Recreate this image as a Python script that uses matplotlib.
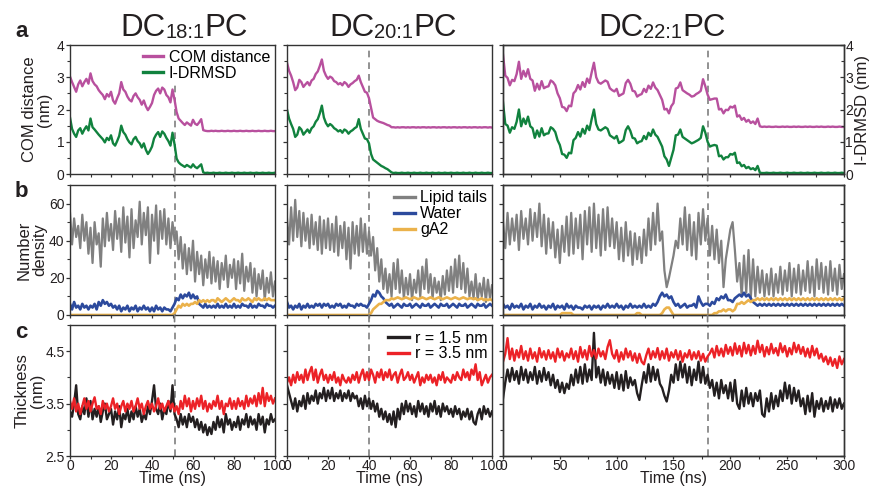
import numpy as np
import matplotlib
matplotlib.use("Agg")
import matplotlib.pyplot as plt
from matplotlib.patches import ConnectionPatch
from matplotlib.ticker import MultipleLocator, FixedLocator

plt.rcParams["font.family"] = ["Liberation Sans", "DejaVu Sans"]

# time axes (ns): 1 ns sampling for the 100 ns runs, 2 ns for the 300 ns run
t_short = np.arange(0, 101, 1)
t_long = np.arange(0, 301, 2)

chain = ["18:1", "20:1", "22:1"]
insertion_time = [51, 40, 180]
time_max = [100, 100, 300]

# --- a: COM distance and I-DRMSD (nm) ---
com_18 = [3.02, 2.85, 2.70, 2.55, 2.78, 2.90, 2.72, 2.85, 2.95, 2.80,
          3.12, 2.88, 2.78, 2.72, 2.60, 2.52, 2.45, 2.32, 2.48, 2.40,
          2.55, 2.28, 2.18, 2.35, 2.50, 2.85, 2.62, 2.55, 2.40, 2.30,
          2.25, 2.42, 2.50, 2.38, 2.30, 2.15, 2.28, 2.10, 1.98, 2.08,
          2.20, 2.45, 2.58, 2.65, 2.50, 2.68, 2.62, 2.45, 2.38, 2.22,
          2.62, 2.30, 1.92, 1.72, 1.65, 1.58, 1.52, 1.60, 1.55, 1.50,
          1.68, 1.56, 1.52, 1.60, 1.70, 1.36, 1.34, 1.33, 1.33, 1.34,
          1.33, 1.34, 1.33, 1.33, 1.34, 1.33, 1.33, 1.34, 1.33, 1.33,
          1.34, 1.33, 1.33, 1.34, 1.33, 1.33, 1.34, 1.33, 1.33, 1.34,
          1.33, 1.33, 1.34, 1.33, 1.33, 1.34, 1.33, 1.33, 1.34, 1.33,
          1.33]
drmsd_18 = [1.75, 1.40, 1.25, 1.15, 1.35, 1.42, 1.25, 1.38, 1.48, 1.35,
            1.72, 1.45, 1.38, 1.30, 1.22, 1.15, 1.08, 0.98, 1.12, 1.05,
            1.20, 0.95, 0.88, 1.02, 1.18, 1.50, 1.30, 1.22, 1.08, 0.98,
            0.92, 1.08, 1.15, 1.02, 0.95, 0.82, 0.95, 0.75, 0.62, 0.72,
            0.85, 1.10, 1.22, 1.30, 1.15, 1.32, 1.25, 1.12, 1.02, 0.88,
            1.28, 0.92, 0.48, 0.36, 0.30, 0.26, 0.22, 0.28, 0.24, 0.20,
            0.30, 0.22, 0.18, 0.24, 0.30, 0.05, 0.03, 0.04, 0.03, 0.03,
            0.04, 0.03, 0.03, 0.04, 0.03, 0.03, 0.04, 0.03, 0.03, 0.04,
            0.03, 0.03, 0.04, 0.03, 0.03, 0.04, 0.03, 0.03, 0.04, 0.03,
            0.03, 0.04, 0.03, 0.03, 0.04, 0.03, 0.03, 0.04, 0.03, 0.03,
            0.04]
com_20 = [3.45, 3.20, 3.05, 2.85, 2.60, 2.68, 2.92, 2.85, 2.70, 2.78,
          2.85, 2.75, 2.90, 2.95, 3.10, 3.18, 3.35, 3.55, 3.20, 3.05,
          2.95, 3.02, 2.98, 2.88, 2.85, 2.78, 2.82, 2.75, 2.85, 2.80,
          2.70, 2.78, 2.82, 2.88, 2.92, 3.05, 2.85, 2.70, 2.55, 2.52,
          2.35, 2.05, 1.75, 1.70, 1.65, 1.62, 1.60, 1.58, 1.55, 1.52,
          1.50, 1.45, 1.45, 1.44, 1.45, 1.44, 1.45, 1.45, 1.44, 1.45,
          1.44, 1.45, 1.45, 1.44, 1.45, 1.44, 1.45, 1.45, 1.44, 1.45,
          1.44, 1.45, 1.45, 1.44, 1.45, 1.44, 1.45, 1.45, 1.44, 1.45,
          1.44, 1.45, 1.45, 1.44, 1.45, 1.44, 1.45, 1.45, 1.44, 1.45,
          1.44, 1.45, 1.45, 1.44, 1.45, 1.44, 1.45, 1.45, 1.44, 1.45,
          1.44]
drmsd_20 = [2.00, 1.72, 1.55, 1.40, 1.15, 1.22, 1.45, 1.38, 1.22, 1.30,
            1.38, 1.28, 1.42, 1.48, 1.62, 1.70, 1.88, 2.12, 1.75, 1.58,
            1.48, 1.55, 1.50, 1.42, 1.38, 1.32, 1.36, 1.28, 1.38, 1.34,
            1.25, 1.32, 1.36, 1.42, 1.46, 1.70, 1.40, 1.25, 1.10, 1.08,
            0.95, 0.62, 0.45, 0.40, 0.35, 0.30, 0.25, 0.22, 0.18, 0.15,
            0.10, 0.05, 0.03, 0.04, 0.03, 0.03, 0.04, 0.03, 0.03, 0.04,
            0.03, 0.03, 0.04, 0.03, 0.03, 0.04, 0.03, 0.03, 0.04, 0.03,
            0.03, 0.04, 0.03, 0.03, 0.04, 0.03, 0.03, 0.04, 0.03, 0.03,
            0.04, 0.03, 0.03, 0.04, 0.03, 0.03, 0.04, 0.03, 0.03, 0.04,
            0.03, 0.03, 0.04, 0.03, 0.03, 0.04, 0.03, 0.03, 0.04, 0.03,
            0.03]
com_22 = [3.70, 3.05, 2.98, 2.75, 2.92, 2.88, 3.10, 3.48, 2.95, 3.20,
          3.02, 3.25, 2.95, 2.90, 2.58, 2.80, 2.62, 2.88, 2.66, 2.70,
          2.72, 2.90, 2.85, 2.75, 2.50, 2.35, 2.08, 2.06, 1.95, 2.12,
          2.10, 2.50, 2.58, 2.76, 2.62, 2.85, 2.70, 2.96, 2.82, 3.15,
          3.45, 3.00, 2.84, 2.80, 2.85, 2.90, 2.86, 2.66, 2.60, 2.56,
          2.64, 2.42, 2.46, 2.50, 2.82, 2.92, 2.80, 2.58, 2.56, 2.40,
          2.45, 2.48, 2.64, 2.54, 2.74, 2.64, 2.84, 2.68, 2.60, 2.45,
          2.30, 2.00, 2.02, 1.88, 2.10, 2.20, 2.65, 2.68, 2.84, 2.60,
          2.55, 2.50, 2.46, 2.40, 2.42, 2.48, 2.52, 2.58, 2.94, 2.72,
          2.46, 2.30, 2.32, 2.34, 2.34, 2.00, 2.02, 1.88, 1.99, 1.98,
          2.09, 2.06, 2.12, 1.78, 1.82, 1.68, 1.74, 1.62, 1.68, 1.58,
          1.63, 1.55, 1.72, 1.48, 1.46, 1.47, 1.46, 1.47, 1.46, 1.46,
          1.47, 1.46, 1.46, 1.47, 1.46, 1.47, 1.46, 1.46, 1.47, 1.46,
          1.47, 1.46, 1.46, 1.47, 1.46, 1.47, 1.46, 1.46, 1.47, 1.46,
          1.47, 1.46, 1.46, 1.47, 1.46, 1.47, 1.46, 1.46, 1.47, 1.46,
          1.46]
drmsd_22 = [2.22, 1.55, 1.50, 1.28, 1.45, 1.40, 1.62, 2.00, 1.48, 1.72,
            1.55, 1.78, 1.48, 1.42, 1.12, 1.35, 1.16, 1.42, 1.20, 1.25,
            1.26, 1.45, 1.40, 1.30, 1.05, 0.90, 0.62, 0.60, 0.50, 0.66,
            0.64, 1.05, 1.12, 1.30, 1.16, 1.40, 1.25, 1.50, 1.36, 1.70,
            2.00, 1.55, 1.38, 1.35, 1.40, 1.45, 1.40, 1.20, 1.15, 1.10,
            1.18, 0.96, 1.00, 1.05, 1.36, 1.48, 1.34, 1.12, 1.10, 0.95,
            1.00, 1.02, 1.18, 1.08, 1.28, 1.18, 1.38, 1.22, 1.15, 1.00,
            0.85, 0.55, 0.45, 0.25, 0.50, 0.75, 1.20, 1.22, 1.38, 1.15,
            1.10, 1.05, 1.00, 0.95, 0.98, 1.02, 1.06, 1.12, 1.48, 1.28,
            1.00, 0.85, 0.88, 0.90, 0.88, 0.55, 0.57, 0.45, 0.52, 0.52,
            0.62, 0.60, 0.66, 0.34, 0.36, 0.24, 0.28, 0.18, 0.22, 0.15,
            0.18, 0.12, 0.25, 0.04, 0.03, 0.03, 0.04, 0.03, 0.03, 0.04,
            0.03, 0.03, 0.04, 0.03, 0.03, 0.04, 0.03, 0.03, 0.04, 0.03,
            0.03, 0.04, 0.03, 0.03, 0.04, 0.03, 0.03, 0.04, 0.03, 0.03,
            0.04, 0.03, 0.03, 0.04, 0.03, 0.03, 0.04, 0.03, 0.03, 0.04,
            0.03]

# --- b: number density ---
lipid_18 = [55, 38, 52, 42, 48, 36, 54, 40, 50, 33,
            47, 28, 50, 38, 44, 26, 52, 37, 55, 40,
            49, 35, 56, 41, 52, 34, 58, 39, 53, 31,
            57, 36, 51, 42, 61, 38, 55, 43, 58, 28,
            54, 40, 59, 33, 56, 41, 57, 38, 52, 36,
            50, 40, 45, 30, 42, 25, 38, 22, 36, 24,
            40, 18, 34, 22, 32, 16, 30, 20, 34, 17,
            31, 18, 29, 14, 28, 19, 32, 15, 27, 20,
            30, 14, 29, 17, 33, 13, 26, 18, 28, 12,
            25, 10, 22, 14, 24, 8, 20, 12, 23, 10,
            18]
water_18 = [6, 3, 7, 4, 5, 3, 6, 4, 5, 3,
            5, 4, 6, 3, 7, 5, 8, 6, 7, 5,
            6, 4, 5, 3, 5, 2, 4, 3, 5, 2,
            4, 3, 5, 2, 4, 3, 5, 3, 4, 2,
            4, 2, 5, 3, 4, 2, 4, 3, 3, 2,
            4, 6, 9, 8, 11, 9, 11, 10, 12, 9,
            11, 9, 10, 6, 5, 4, 6, 4, 5, 4,
            5, 4, 6, 4, 5, 4, 6, 4, 5, 4,
            6, 4, 5, 4, 6, 5, 5, 4, 6, 4,
            5, 4, 6, 5, 5, 4, 6, 5, 5, 4,
            5]
ga2_18 = [0, 0, 0, 0, 0, 0, 0, 0, 0, 0,
          0, 0, 0, 0, 0, 0, 0, 0, 0, 0,
          0, 0, 0, 0, 0, 0, 0, 0, 0, 0,
          0, 0, 0, 0, 0, 0, 0, 0, 0, 0,
          0, 0, 0, 0, 0, 0, 0, 0, 0, 0,
          0, 1, 3, 5, 4, 6, 5, 6, 5, 6,
          6, 7, 6, 8, 7, 8, 7, 8, 7, 8,
          8, 7, 9, 8, 7, 8, 9, 8, 7, 8,
          9, 8, 8, 7, 9, 8, 8, 9, 8, 7,
          9, 8, 9, 8, 8, 9, 8, 9, 8, 8,
          8]
lipid_20 = [52, 38, 58, 40, 62, 42, 56, 37, 55, 40,
            52, 36, 54, 38, 50, 35, 53, 33, 51, 36,
            52, 35, 49, 34, 53, 32, 48, 36, 50, 30,
            47, 25, 50, 33, 48, 32, 52, 34, 49, 33,
            45, 32, 42, 24, 36, 18, 30, 14, 25, 12,
            22, 10, 28, 14, 30, 12, 24, 9, 20, 11,
            22, 8, 19, 12, 24, 10, 26, 14, 30, 12,
            22, 9, 20, 12, 18, 8, 21, 11, 24, 13,
            26, 12, 30, 15, 32, 14, 28, 12, 25, 10,
            18, 9, 22, 8, 17, 10, 20, 7, 19, 9,
            16]
water_20 = [7, 4, 5, 3, 5, 4, 6, 3, 5, 4,
            6, 4, 5, 4, 6, 5, 6, 4, 6, 5,
            6, 4, 5, 4, 6, 5, 6, 4, 5, 4,
            6, 5, 5, 4, 6, 5, 6, 5, 5, 4,
            6, 8, 11, 10, 13, 12, 10, 9, 7, 6,
            5, 6, 4, 5, 6, 5, 4, 6, 5, 5,
            6, 4, 5, 6, 5, 4, 6, 5, 5, 6,
            4, 5, 6, 5, 4, 6, 5, 5, 6, 4,
            5, 6, 5, 4, 6, 5, 5, 6, 4, 5,
            6, 5, 4, 6, 5, 5, 6, 4, 5, 6,
            5]
ga2_20 = [0, 0, 0, 0, 0, 0, 0, 0, 0, 0,
          0, 0, 0, 0, 0, 0, 0, 0, 0, 0,
          0, 0, 0, 0, 0, 0, 0, 0, 0, 0,
          0, 0, 0, 0, 0, 0, 0, 0, 0, 0,
          0, 1, 3, 4, 5, 6, 6, 7, 8, 8,
          8, 9, 8.5, 9, 9.5, 9, 8.5, 9, 9.5, 9,
          8.5, 9, 9.5, 9, 8.5, 9, 9.5, 9, 8.5, 9,
          9.5, 9, 8.5, 9, 9.5, 9, 8.5, 9, 9.5, 9,
          8.5, 9, 9.5, 9, 8.5, 9, 9.5, 9, 8.5, 9,
          9, 8.5, 9, 8, 8.5, 9, 8, 8.5, 8, 8.5,
          8]
lipid_22 = [50, 36, 55, 38, 52, 40, 54, 35, 56, 41,
            52, 38, 57, 40, 55, 42, 60, 37, 54, 33,
            52, 36, 50, 31, 46, 28, 48, 34, 53, 32,
            55, 33, 52, 36, 54, 30, 56, 38, 58, 34,
            60, 36, 54, 32, 57, 35, 58, 37, 52, 36,
            50, 30, 47, 29, 50, 32, 45, 27, 44, 30,
            42, 28, 46, 32, 52, 35, 55, 38, 60, 40,
            45, 24, 15, 20, 26, 32, 40, 36, 52, 38,
            58, 35, 54, 32, 50, 30, 55, 38, 57, 40,
            52, 32, 48, 30, 46, 28, 40, 15, 30, 38,
            46, 50, 35, 18, 28, 10, 32, 12, 35, 9,
            30, 10, 26, 12, 24, 10, 22, 11, 25, 10,
            22, 12, 26, 11, 24, 13, 28, 10, 25, 12,
            27, 11, 24, 13, 29, 12, 26, 10, 30, 14,
            28, 12, 26, 11, 29, 13, 25, 11, 27, 14,
            22]
water_22 = [6, 4, 5, 3, 6, 4, 5, 4, 6, 3,
            5, 4, 6, 3, 5, 4, 6, 4, 5, 3,
            5, 4, 6, 3, 5, 4, 5, 3, 6, 4,
            5, 3, 5, 4, 4, 3, 5, 4, 5, 3,
            5, 4, 5, 3, 5, 4, 6, 4, 5, 4,
            6, 4, 5, 3, 5, 4, 6, 4, 5, 4,
            5, 4, 6, 4, 5, 4, 6, 5, 7, 10,
            12, 10, 11, 9, 10, 7, 5, 6, 4, 5,
            6, 4, 5, 5, 6, 4, 10, 7, 5, 6,
            6, 5, 7, 6, 9, 8, 10, 9, 11, 8,
            8, 7, 9, 10, 11, 10, 12, 10, 11, 9,
            7, 6, 5, 6, 5, 6, 5, 6, 5, 6,
            5, 6, 5, 6, 5, 6, 5, 6, 5, 6,
            5, 6, 5, 6, 5, 6, 5, 6, 5, 6,
            5, 6, 5, 6, 5, 6, 5, 6, 5, 6,
            5]
ga2_22 = [0, 0, 0, 0, 0, 0, 0, 0, 0, 0,
          0, 0, 0, 0, 0, 0, 0, 0, 0, 0,
          0, 0, 0, 0, 0, 0, 1, 1, 1, 1,
          1, 0, 0, 0, 0, 0, 0, 0, 0, 0,
          0, 0, 0, 0, 0, 0, 0, 0, 0, 0,
          0, 0, 0, 0, 0, 0, 0, 0, 0, 1,
          1, 0, 0, 0, 0, 0, 0, 0, 0, 0,
          1, 3, 4, 4, 2, 0, 0, 0, 0, 0,
          0, 0, 0, 0, 0, 0, 0, 0, 0, 0,
          0, 0, 0, 1, 1, 2, 2, 3, 2, 3,
          3, 2, 3, 6, 6, 7, 6, 7, 8, 7,
          8, 8, 9, 8, 9, 8, 9, 8, 9, 8,
          9, 8, 9, 8, 9, 8, 9, 8, 9, 8,
          9, 8, 9, 8, 9, 8, 9, 8, 9, 8,
          9, 8, 9, 8, 9, 8, 9, 8, 9, 8,
          9]

# --- c: membrane thickness (nm) at r = 1.5 nm and r = 3.5 nm ---
thick15_18 = [3.35, 3.25, 3.50, 3.85, 3.30, 3.20, 3.45, 3.30, 3.60, 3.25,
              3.55, 3.20, 3.40, 3.25, 3.45, 3.15, 3.35, 3.50, 3.20, 3.30,
              3.40, 3.10, 3.35, 3.20, 3.45, 3.05, 3.30, 3.20, 3.40, 3.15,
              3.35, 3.20, 3.45, 3.25, 3.40, 3.15, 3.30, 3.20, 3.45, 3.30,
              3.55, 3.85, 3.40, 3.30, 3.50, 3.20, 3.40, 3.30, 3.55, 3.35,
              3.85, 3.30, 3.20, 3.05, 3.30, 3.10, 3.25, 3.05, 3.30, 3.15,
              3.25, 3.05, 3.20, 3.00, 3.15, 2.95, 3.10, 2.90, 3.05, 2.92,
              3.15, 3.00, 3.25, 3.05, 3.20, 2.95, 3.30, 3.10, 3.20, 3.00,
              3.15, 3.05, 3.25, 3.00, 3.20, 3.10, 3.30, 3.05, 3.25, 3.10,
              3.20, 3.00, 3.30, 3.10, 3.25, 2.95, 3.20, 3.10, 3.30, 3.15,
              3.20]
thick35_18 = [3.55, 3.40, 3.60, 3.35, 3.50, 3.30, 3.45, 3.60, 3.40, 3.55,
              3.35, 3.50, 3.62, 3.40, 3.45, 3.30, 3.55, 3.40, 3.50, 3.35,
              3.45, 3.60, 3.40, 3.50, 3.30, 3.45, 3.55, 3.35, 3.50, 3.40,
              3.55, 3.35, 3.45, 3.60, 3.40, 3.50, 3.30, 3.45, 3.55, 3.40,
              3.50, 3.35, 3.45, 3.60, 3.40, 3.50, 3.35, 3.45, 3.55, 3.40,
              3.50, 3.35, 3.45, 3.30, 3.55, 3.40, 3.65, 3.45, 3.60, 3.35,
              3.55, 3.40, 3.60, 3.45, 3.65, 3.40, 3.55, 3.35, 3.50, 3.40,
              3.55, 3.45, 3.65, 3.40, 3.55, 3.30, 3.50, 3.45, 3.60, 3.40,
              3.55, 3.40, 3.60, 3.45, 3.55, 3.40, 3.65, 3.45, 3.60, 3.50,
              3.65, 3.45, 3.70, 3.50, 3.80, 3.45, 3.70, 3.55, 3.65, 3.50,
              3.60]
thick15_20 = [3.85, 3.70, 3.55, 3.40, 3.60, 3.35, 3.55, 3.45, 3.65, 3.40,
              3.70, 3.50, 3.65, 3.55, 3.75, 3.50, 3.70, 3.60, 3.80, 3.55,
              3.75, 3.60, 3.80, 3.55, 3.70, 3.60, 3.75, 3.55, 3.70, 3.60,
              3.75, 3.55, 3.70, 3.60, 3.65, 3.45, 3.60, 3.40, 3.65, 3.45,
              3.60, 3.40, 3.55, 3.35, 3.50, 3.25, 3.40, 3.20, 3.35, 3.15,
              3.30, 3.10, 3.35, 3.05, 3.40, 3.20, 3.50, 3.30, 3.55, 3.35,
              3.50, 3.30, 3.45, 3.25, 3.55, 3.35, 3.50, 3.30, 3.45, 3.25,
              3.50, 3.35, 3.55, 3.30, 3.45, 3.25, 3.50, 3.35, 3.45, 3.30,
              3.40, 3.25, 3.45, 3.30, 3.40, 3.20, 3.35, 3.25, 3.40, 3.20,
              3.35, 3.15, 3.10, 3.30, 3.40, 3.20, 3.45, 3.30, 3.40, 3.25,
              3.35]
thick35_20 = [3.90, 4.00, 3.85, 4.05, 3.90, 4.10, 3.95, 4.05, 3.90, 4.15,
              3.95, 4.10, 4.20, 3.95, 4.15, 3.90, 4.05, 4.15, 3.95, 4.05,
              3.90, 4.05, 3.95, 4.10, 3.90, 4.00, 3.85, 4.05, 3.95, 3.90,
              4.00, 3.90, 4.05, 3.95, 4.10, 3.90, 4.05, 4.15, 3.95, 4.10,
              3.95, 4.15, 4.05, 3.90, 4.10, 4.00, 4.15, 3.95, 4.10, 4.00,
              4.15, 3.95, 4.05, 4.10, 3.90, 4.05, 4.15, 3.95, 4.00, 4.10,
              3.95, 4.05, 3.90, 4.00, 4.10, 3.85, 4.00, 3.90, 4.05, 3.95,
              4.05, 3.90, 4.00, 3.85, 4.05, 3.95, 4.10, 3.90, 4.00, 3.95,
              3.90, 4.05, 3.95, 4.10, 4.00, 3.95, 4.15, 4.00, 4.10, 3.95,
              4.15, 4.05, 4.25, 3.95, 4.10, 3.85, 3.95, 4.05, 3.90, 4.00,
              4.05]
thick15_22 = [3.60, 3.90, 4.15, 3.92, 4.18, 3.95, 4.12, 3.88, 4.20, 3.95,
              4.15, 3.90, 4.10, 3.95, 4.20, 3.88, 4.12, 3.92, 4.18, 3.95,
              4.10, 3.85, 4.05, 3.80, 3.95, 3.72, 3.90, 3.70, 3.88, 3.78,
              4.05, 3.85, 4.15, 3.90, 4.20, 3.88, 4.25, 3.92, 4.15, 3.95,
              4.85, 4.00, 4.20, 3.90, 4.15, 3.85, 4.10, 3.88, 4.05, 3.80,
              4.10, 3.78, 4.05, 3.75, 4.12, 3.80, 4.00, 3.85, 3.95, 3.70,
              3.57, 3.85, 4.10, 3.90, 4.25, 3.92, 4.20, 3.95, 4.15, 3.88,
              3.80, 3.65, 3.54, 3.75, 4.05, 3.90, 4.25, 3.95, 4.30, 4.00,
              4.25, 3.90, 4.20, 3.85, 4.15, 3.95, 4.30, 3.90, 4.20, 3.88,
              4.05, 3.80, 3.95, 3.65, 3.90, 3.60, 3.95, 3.70, 3.85, 3.60,
              3.90, 3.55, 3.95, 3.50, 3.40, 3.75, 3.45, 3.80, 3.50, 3.70,
              3.45, 3.70, 3.55, 3.75, 3.30, 3.25, 3.60, 3.35, 3.70, 3.40,
              3.65, 3.45, 3.75, 3.55, 3.90, 3.60, 3.85, 3.50, 3.80, 3.55,
              3.75, 3.45, 3.60, 3.30, 3.65, 3.35, 3.70, 3.25, 3.55, 3.40,
              3.60, 3.35, 3.55, 3.40, 3.62, 3.35, 3.58, 3.42, 3.60, 3.40,
              3.50]
thick35_22 = [4.30, 4.45, 4.75, 4.35, 4.55, 4.32, 4.52, 4.38, 4.60, 4.35,
              4.50, 4.32, 4.55, 4.36, 4.48, 4.30, 4.56, 4.38, 4.50, 4.34,
              4.52, 4.36, 4.48, 4.30, 4.55, 4.38, 4.50, 4.32, 4.46, 4.38,
              4.55, 4.35, 4.50, 4.30, 4.58, 4.38, 4.52, 4.34, 4.60, 4.40,
              4.52, 4.36, 4.55, 4.40, 4.50, 4.35, 4.58, 4.71, 4.45, 4.36,
              4.52, 4.30, 4.48, 4.34, 4.55, 4.38, 4.50, 4.32, 4.46, 4.28,
              4.45, 4.30, 4.25, 4.42, 4.55, 4.35, 4.50, 4.38, 4.56, 4.34,
              4.50, 4.36, 4.55, 4.32, 4.48, 4.38, 4.52, 4.34, 4.50, 4.30,
              4.46, 4.38, 4.52, 4.34, 4.48, 4.36, 4.50, 4.32, 4.45, 4.30,
              4.40, 4.46, 4.55, 4.38, 4.60, 4.42, 4.55, 4.40, 4.62, 4.45,
              4.58, 4.42, 4.65, 4.45, 4.60, 4.40, 4.66, 4.46, 4.62, 4.42,
              4.60, 4.45, 4.70, 4.48, 4.62, 4.40, 4.58, 4.44, 4.64, 4.46,
              4.56, 4.42, 4.65, 4.48, 4.60, 4.40, 4.56, 4.44, 4.66, 4.48,
              4.62, 4.45, 4.58, 4.40, 4.55, 4.38, 4.60, 4.42, 4.55, 4.36,
              4.45, 4.30, 4.40, 4.25, 4.38, 4.22, 4.35, 4.18, 4.40, 4.25,
              4.35]

times = [t_short, t_short, t_long]
com = [com_18, com_20, com_22]
drmsd = [drmsd_18, drmsd_20, drmsd_22]
lipid = [lipid_18, lipid_20, lipid_22]
water = [water_18, water_20, water_22]
ga2 = [ga2_18, ga2_20, ga2_22]
thick15 = [thick15_18, thick15_20, thick15_22]
thick35 = [thick35_18, thick35_20, thick35_22]

C_COM, C_DRMSD = "#b8509e", "#11823e"
C_LIPID, C_WATER, C_GA2 = "#808080", "#2c4a9d", "#ebb24b"
C_R15, C_R35 = "#231f20", "#ec2227"
C_DASH = "#7f7f7f"
SPINE = "#333333"
TXT = "#231f20"

# panel geometry in pixels
W, H = 873, 487
col_left = [70, 287, 503]
col_width = [205, 205, 341]
row_top = [45, 185, 325]
row_height = [129, 130, 131]

fig = plt.figure(figsize=(W / 100, H / 100), dpi=100)
axes = [[fig.add_axes([col_left[c] / W, 1 - (row_top[r] + row_height[r]) / H,
                       col_width[c] / W, row_height[r] / H])
         for c in range(3)] for r in range(3)]

lw = 1.7
for c in range(3):
    t = times[c]
    ax = axes[0][c]
    ax.plot(t, com[c], color=C_COM, lw=lw, label="COM distance")
    ax.plot(t, drmsd[c], color=C_DRMSD, lw=lw, label="I-DRMSD")
    ax = axes[1][c]
    ax.plot(t, lipid[c], color=C_LIPID, lw=1.6, label="Lipid tails")
    ax.plot(t, water[c], color=C_WATER, lw=1.9, label="Water")
    ax.plot(t, ga2[c], color=C_GA2, lw=1.9, label="gA2")
    ax = axes[2][c]
    ax.plot(t, thick15[c], color=C_R15, lw=lw, label="r = 1.5 nm")
    ax.plot(t, thick35[c], color=C_R35, lw=lw, label="r = 3.5 nm")

ylims = [(0, 4), (0, 70), (2.5, 5.0)]


def set_y_locators(ax, r):
    if r == 0:
        ax.yaxis.set_major_locator(MultipleLocator(1))
        ax.yaxis.set_minor_locator(MultipleLocator(0.5))
    elif r == 1:
        ax.yaxis.set_major_locator(MultipleLocator(20))
        ax.yaxis.set_minor_locator(MultipleLocator(10))
    else:
        ax.yaxis.set_major_locator(FixedLocator([2.5, 3.5, 4.5]))
        ax.yaxis.set_minor_locator(MultipleLocator(0.5))


def style_ticks(ax, direction):
    ax.tick_params(which="both", direction=direction, color=SPINE,
                   labelsize=10, pad=1, labelcolor=TXT)
    ax.tick_params(which="major", length=3, width=0.9)
    ax.tick_params(which="minor", length=2, width=0.8)


for r in range(3):
    for c in range(3):
        ax = axes[r][c]
        ax.set_xlim(0, time_max[c])
        ax.set_ylim(*ylims[r])
        step = 20 if time_max[c] == 100 else 50
        ax.xaxis.set_major_locator(MultipleLocator(step))
        ax.xaxis.set_minor_locator(MultipleLocator(step / 2))
        set_y_locators(ax, r)
        style_ticks(ax, "out")
        ax.tick_params(axis="x", which="major", length=2.5, pad=0, labelsize=10)
        ax.tick_params(labelbottom=(r == 2), labelleft=(c == 0))
        for s in ax.spines.values():
            s.set_linewidth(1.0)
            s.set_color(SPINE)

# inward right-hand scale on the 300 ns column; labelled for I-DRMSD
for r in range(3):
    twin = axes[r][2].twinx()
    twin.set_ylim(*ylims[r])
    set_y_locators(twin, r)
    style_ticks(twin, "in")
    twin.tick_params(labelright=(r == 0))
    for s in twin.spines.values():
        s.set_linewidth(1.0)
        s.set_color(SPINE)
    if r == 0:
        twin.set_ylabel("I-DRMSD (nm)", fontsize=12, color=TXT)
        twin.yaxis.set_label_coords(1.032, 0.5)

ylabel_text = ["COM distance\n(nm)", "Number\ndensity", "Thickness\n(nm)"]
ylabel_x = [-0.088, -0.112, -0.122]
for r in range(3):
    ax = axes[r][0]
    ax.set_ylabel(ylabel_text[r], fontsize=12, linespacing=1.0, color=TXT)
    ax.yaxis.set_label_coords(ylabel_x[r], 0.5)

# "Time (ns)" placed by its baseline, just above the lower figure edge
for c in range(3):
    ax = axes[2][c]
    ax.set_xlabel("Time (ns)", fontsize=11.5, color=TXT, va="baseline")
    ax.xaxis.set_label_coords(0.5, -(483.5 - 456) / 131)

# insertion time marker running through all three rows
dash = (0, (4, 3))
for c in range(3):
    x = insertion_time[c]
    for r in range(3):
        axes[r][c].axvline(x, color=C_DASH, lw=1.2, ls=dash, zorder=1)
    for r in range(2):
        con = ConnectionPatch(xyA=(x, ylims[r][0]), coordsA=axes[r][c].transData,
                              xyB=(x, ylims[r + 1][1]), coordsB=axes[r + 1][c].transData,
                              color=C_DASH, lw=1.2, ls=dash)
        fig.add_artist(con)

leg_kw = dict(loc="upper right", fontsize=11.5, frameon=True, framealpha=1,
              facecolor="white", edgecolor="none", handlelength=1.3,
              handletextpad=0.35, labelspacing=0.05, borderpad=0.1,
              borderaxespad=0)
legends = [axes[0][0].legend(bbox_to_anchor=(0.985, 0.975), **leg_kw),
           axes[1][1].legend(bbox_to_anchor=(0.985, 0.97), **leg_kw),
           axes[2][1].legend(bbox_to_anchor=(0.985, 0.97), **leg_kw)]
for lg in legends:
    lg.set_zorder(5)
    for h in lg.get_lines():
        h.set_linewidth(2.4)

# column titles: DC<sub>n:1</sub>PC, assembled from three pieces
renderer = fig.canvas.get_renderer()
title_center = [184, 393, 662]
for c in range(3):
    pieces = [("DC", 22.5, 36), (chain[c], 14.5, 38), ("PC", 22.5, 36)]
    items = []
    for s, size, base in pieces:
        tx = fig.text(0, 0, s, fontsize=size, ha="left", va="baseline", color=TXT)
        items.append((tx, tx.get_window_extent(renderer).width, base))
    x = title_center[c] - sum(w for _, w, _ in items) / 2
    for tx, w, base in items:
        tx.set_position((x / W, 1 - base / H))
        x += w

for letter, y in zip("abc", [37, 197, 338]):
    fig.text(15 / W, 1 - y / H, letter, fontsize=16, fontweight="bold",
             ha="left", va="baseline", color=TXT)

fig.savefig("out.png", dpi=100)
